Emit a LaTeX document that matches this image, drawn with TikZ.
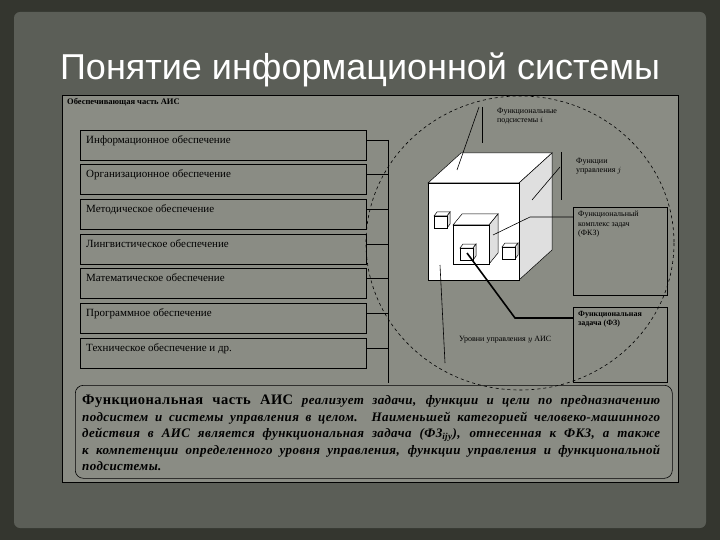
\documentclass[tikz,border=0pt]{standalone}
\usepackage{fontspec}
\setmainfont{Liberation Serif}
\newfontfamily\titlefont{Liberation Sans}
\newfontfamily\paraf[LetterSpace=3]{Liberation Serif}
\begin{document}
\begin{tikzpicture}[x=1pt,y=-1pt,
  rowbox/.style={draw=black,line width=0.6pt,fill=panel,minimum width=286pt,minimum height=30pt,anchor=north west,inner sep=0pt},
  rowtxt/.style={font=\fontsize{11}{12}\selectfont,anchor=north west,inner sep=0pt},
  lbl/.style={font=\fontsize{8}{9.5}\selectfont,align=left,anchor=north west,inner sep=0pt},
  face/.style={draw=black,line width=0.5pt},
  ln/.style={draw=black,line width=0.6pt}]
\definecolor{panel}{HTML}{8A8C84}
\definecolor{slide}{HTML}{5B5E57}
\definecolor{edge}{HTML}{34362F}
\useasboundingbox (0,0) rectangle (720,540);
\fill[edge] (0,0) rectangle (720,540);
\fill[slide,rounded corners=6pt] (14,12) rectangle (706,528);
\node[font=\titlefont\fontsize{36}{38}\selectfont,text=white,inner sep=0pt] (title) at (360,70) {Понятие информационной системы};
\node[draw=black,line width=0.6pt,fill=panel,minimum width=616pt,minimum height=387pt,anchor=north west,inner sep=0pt] (panel) at (62,95) {};
\node[font=\bfseries\fontsize{8.5}{9}\selectfont,anchor=north west,inner sep=0pt] (head) at (67,98) {Обеспечивающая часть АИС};
% rows
\foreach \i/\y/\t in {1/130/Информационное обеспечение,2/164/Организационное обеспечение,3/199/Методическое обеспечение,4/234/Лингвистическое обеспечение,5/268/Математическое обеспечение,6/303/Программное обеспечение,7/338/Техническое обеспечение и др.}{
  \node[rowbox] (r\i) at (80,\y) {};
  \node[rowtxt] at (86,\y+5) {\t};
  \coordinate (c\i) at (388,\y+10);
  \draw[ln] (r\i.east |- c\i) -- (c\i);
}
\coordinate (cbot) at (388,383);
\draw[ln] (c1) -- (cbot);
% dashed ellipse
\draw[dashed,line width=0.6pt] (520,243) ellipse [x radius=154, y radius=147];
% cubes
\def\cube#1#2#3#4#5#6{%
  \fill[white,face] (#1,#2) -- (#1+#5,#2+#6) -- (#3+#5,#2+#6) -- (#3,#2) -- cycle;
  \fill[gray!25,face] (#3,#2) -- (#3+#5,#2+#6) -- (#3+#5,#4+#6) -- (#3,#4) -- cycle;
  \fill[white,face] (#1,#2) rectangle (#3,#4);}
\cube{428}{183}{519}{280}{33}{-30}
\cube{453}{225}{489}{264}{9}{-11}
\cube{434}{216}{447}{228}{3}{-4}
\cube{502}{247}{515}{259}{3}{-4}
\cube{460}{248}{473}{260}{3}{-4}
% labels
\node[lbl] (fp) at (497,108) {Функциональные\\подсистемы $i$};
\draw[ln] (482,107) -- (482,143);
\draw[ln] (479,107) -- (457,170);
\node[lbl] (fu) at (576,158) {Функции\\управления $j$};
\draw[ln] (561,152) -- (561,200);
\draw[ln] (560,167) -- (532,200);
\node[draw=black,line width=0.6pt,minimum width=94pt,minimum height=88pt,anchor=north west,inner sep=0pt] (fkz) at (573,207) {};
\node[lbl] at (578,211) {Функциональный\\комплекс задач\\(ФКЗ)};
\draw[ln] (fkz.west |- 0,217) -- (530,217) -- (493,235);
\node[draw=black,line width=1.2pt,minimum width=94pt,minimum height=75pt,anchor=north west,inner sep=0pt] (fz) at (573,307) {};
\node[lbl,font=\bfseries\fontsize{8}{9.5}\selectfont] at (578,311) {Функциональная\\задача (ФЗ)};
\draw[black,line width=1.6pt] (fz.west |- 0,318) -- (515,318) -- (467,253);
\node[lbl] (ur) at (459,336) {Уровни управления $y$ АИС};
\draw[ln] (440,265) -- (445,363);
% bottom box
\node[draw=black,line width=0.6pt,rounded corners=8pt,minimum width=597pt,minimum height=93pt,anchor=north west,inner sep=0pt] (fb) at (75,385) {};
\node[anchor=north west,inner sep=0pt,text width=578pt,align=justify,font=\paraf\fontsize{13}{16.5}\selectfont] (ft) at (82,395) {{\bfseries\fontsize{14.5}{16.5}\selectfont Функциональная часть АИС} \textbf{\itshape реализует задачи, функции и цели по предназначению подсистем и системы управления в целом. Наименьшей категорией человеко-машинного действия в АИС является функциональная задача (ФЗ\textsubscript{ijy}), отнесенная к ФКЗ, а также к компетенции определенного уровня управления, функции управления и функциональной подсистемы.}};
\end{tikzpicture}
\end{document}
